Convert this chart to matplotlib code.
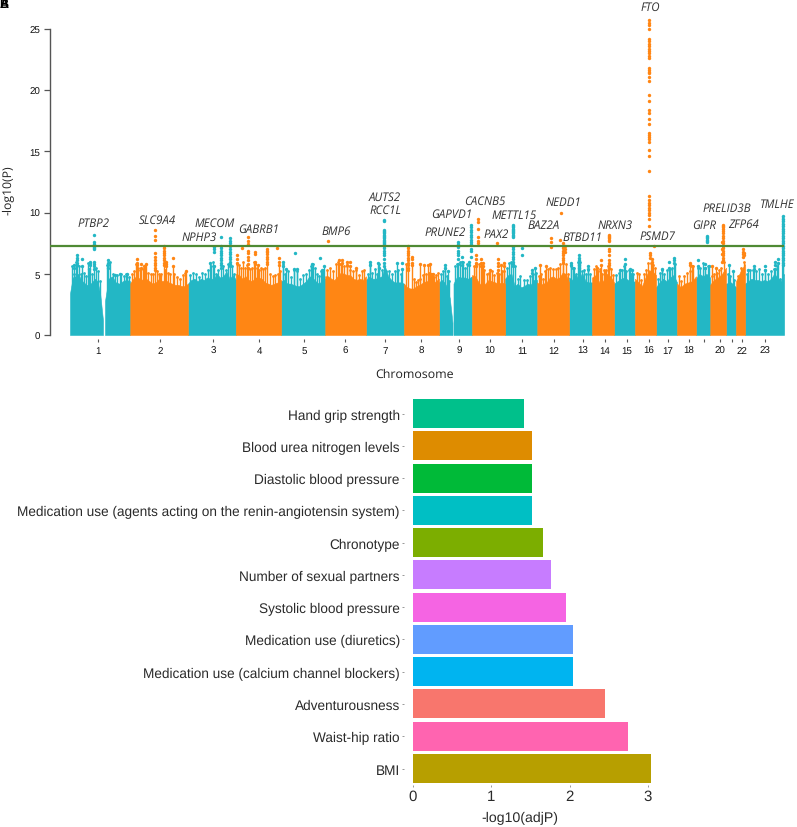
import matplotlib
matplotlib.use("Agg")
import matplotlib.pyplot as plt

plt.rcParams["text.hinting"] = "none"
plt.rcParams["text.hinting_factor"] = 8

W, H = 797, 828
TEAL = "#23B7C5"
ORANGE = "#FF8614"
GREEN = "#4F8A34"

# ---- Manhattan: chromosome segments (start, end on the genome axis) and top of the solid mass
seg_1a = (70, 103); top_1a = [3.4, 4.7, 4.8, 5.0, 4.5, 4.3, 4.1, 4.1, 4.3, 4.6, 4.4, 3.3, 1.2]
seg_1b = (105, 130); top_1b = [2.8, 4.6, 4.8, 4.3, 4.2, 4.4, 4.5, 4.4]
seg_2 = (130, 188); top_2 = [4.2, 4.6, 4.8, 4.6, 4.5, 4.6, 4.4, 4.2, 4.3, 4.6, 4.4, 4.5, 4.3, 4.2, 4.1, 4.1, 4.0, 4.0, 4.2]
seg_3 = (188, 236); top_3 = [4.2, 4.5, 4.6, 4.4, 4.6, 4.5, 4.7, 4.6, 4.6, 5.0, 4.7, 4.8, 5.2, 4.6, 4.9, 4.5]
seg_4 = (236, 281); top_4 = [5.0, 4.9, 4.6, 4.8, 4.5, 4.4, 4.7, 4.7, 4.6, 4.3, 4.2, 4.1, 4.2, 4.3, 4.5]
seg_5 = (281, 325); top_5 = [4.4, 4.5, 4.2, 4.2, 4.1, 4.0, 4.0, 4.2, 4.4, 4.8, 4.7, 4.4, 4.2, 4.4, 4.6]
seg_6 = (325, 366); top_6 = [4.8, 4.8, 4.6, 4.5, 4.8, 5.1, 5.0, 4.9, 4.9, 4.6, 4.5, 4.6, 4.5, 4.8]
seg_7 = (366, 404); top_7 = [4.5, 4.8, 4.6, 4.6, 4.7, 4.8, 5.6, 4.8, 4.5, 4.3, 4.3, 4.3, 4.2]
seg_8 = (404, 439); top_8 = [4.2, 3.9, 3.8, 3.8, 4.0, 4.1, 4.3, 4.4, 4.4, 4.2, 4.4, 4.6]
seg_9a = (439, 452.5); top_9a = [4.3, 4.5, 4.3, 3.9, 3.0, 1.0]
seg_9b = (453.5, 472); top_9b = [4.2, 4.8, 4.7, 4.7, 4.6, 4.8]
seg_10 = (472, 505); top_10 = [4.9, 4.8, 4.3, 4.0, 4.2, 4.5, 4.4, 4.3, 4.2, 4.3, 4.2]
seg_11 = (505, 537); top_11 = [4.6, 4.9, 5.0, 4.0, 4.2, 3.9, 4.0, 4.2, 4.1, 4.5, 4.5]
seg_12 = (537, 569); top_12 = [4.3, 4.1, 4.2, 4.3, 4.7, 4.8, 4.6, 4.7, 5.1, 5.0, 4.3]
seg_13 = (569, 592); top_13 = [4.7, 4.5, 5.0, 4.5, 5.1, 4.4, 4.3, 4.3]
seg_14 = (592, 614); top_14 = [4.7, 4.9, 4.3, 4.4, 5.0, 4.8, 4.3]
seg_15 = (614, 635); top_15 = [4.2, 4.4, 4.6, 4.7, 4.5, 4.3, 4.4]
seg_16 = (635, 656); top_16 = [4.6, 4.3, 4.0, 4.7, 5.3, 5.2, 4.9]
seg_17 = (656, 677); top_17 = [3.9, 4.3, 4.6, 4.4, 4.7, 4.9, 4.3]
seg_18 = (677, 696); top_18 = [4.2, 3.9, 4.2, 4.3, 4.4, 4.8]
seg_19 = (696, 710); top_19 = [4.6, 5.0, 4.8, 5.0, 4.7]
seg_20 = (710, 726); top_20 = [4.1, 4.5, 4.7, 5.0, 5.5]
seg_21 = (726, 736); top_21 = [4.2, 4.3, 3.9]
seg_22 = (736, 745); top_22 = [4.4, 5.2, 5.8]
seg_23 = (745, 784); top_23 = [4.2, 4.4, 4.6, 4.5, 4.5, 4.4, 4.5, 4.4, 4.6, 5.0, 4.7, 4.4, 5.0]

teal_segments = [(seg_1a, top_1a), (seg_1b, top_1b), (seg_3, top_3), (seg_5, top_5), (seg_7, top_7),
                 (seg_9a, top_9a), (seg_9b, top_9b), (seg_11, top_11), (seg_13, top_13), (seg_15, top_15),
                 (seg_17, top_17), (seg_19, top_19), (seg_21, top_21), (seg_23, top_23)]
orange_segments = [(seg_2, top_2), (seg_4, top_4), (seg_6, top_6), (seg_8, top_8), (seg_10, top_10),
                   (seg_12, top_12), (seg_14, top_14), (seg_16, top_16), (seg_18, top_18), (seg_20, top_20),
                   (seg_22, top_22)]

# ---- Manhattan: thin spikes rising out of the mass
teal_spike_x = [72, 73.5, 76, 79, 81, 84, 86, 88, 92, 96, 98, 100, 107, 110, 113, 117, 121, 124, 126, 129,
                190, 193, 196, 199, 202, 205, 208, 211, 213, 216, 218, 223, 226, 228, 232, 234,
                283, 285, 288, 291, 294, 297, 300, 303, 306, 309, 311, 313, 315, 317, 319, 321, 323,
                368, 370, 372, 375, 377, 379, 382, 386, 389, 392, 395, 398, 401,
                441, 443, 445, 447, 449, 455, 457, 460, 463, 465, 467,
                507, 509, 511, 515, 518, 520, 524, 527, 530, 533, 536,
                571, 574, 576, 578, 580, 582, 584, 586, 588, 590,
                616, 619, 622, 624, 626, 629, 631, 633,
                658, 660, 662, 664, 667, 670, 672, 675,
                698, 700, 703, 705, 708, 728, 730, 734,
                747, 750, 753, 756, 759, 762, 765, 768, 771, 774, 777, 780]
teal_spike_y = [5.6, 5.0, 6.0, 5.6, 5.0, 5.1, 4.8, 5.9, 5.0, 5.5, 5.2, 4.4, 5.7, 6.0, 5.0, 4.9, 5.0, 4.8, 5.0, 4.7,
                4.9, 5.1, 5.0, 4.7, 5.1, 5.0, 5.3, 5.6, 6.0, 5.0, 5.3, 5.6, 5.3, 5.8, 5.6, 5.0,
                5.8, 5.0, 5.2, 4.7, 5.3, 5.2, 4.6, 4.9, 5.0, 5.3, 5.6, 5.8, 5.5, 5.0, 4.8, 5.2, 5.3,
                5.0, 5.8, 5.1, 5.4, 5.0, 5.8, 5.3, 5.2, 5.2, 5.0, 5.2, 5.3, 5.0,
                5.0, 5.2, 5.5, 4.8, 4.4, 5.6, 5.8, 6.0, 6.0, 5.5, 5.8,
                5.5, 5.9, 6.0, 5.6, 4.6, 4.8, 4.5, 4.5, 4.8, 5.0, 5.1,
                5.6, 5.5, 5.0, 6.0, 6.0, 5.2, 5.3, 5.0, 5.3, 5.0,
                4.9, 5.1, 5.3, 5.6, 5.2, 5.3, 5.0, 5.0,
                4.6, 5.1, 5.3, 5.0, 5.3, 5.4, 5.5, 5.8,
                5.5, 5.5, 5.9, 5.5, 5.6, 5.0, 4.8, 4.5,
                5.0, 5.3, 5.3, 5.2, 5.4, 5.0, 5.3, 5.0, 5.2, 5.4, 5.6, 4.6]
orange_spike_x = [132, 134, 136, 138, 140, 143, 145, 148, 151, 153, 157, 159, 161, 165, 168, 170, 174, 177, 180, 183, 185,
                  237, 239, 241, 243, 245, 247, 250, 252, 254, 257, 259, 261, 263, 265, 270, 273, 275, 278, 280,
                  327, 330, 333, 336, 338, 341, 344, 347, 350, 353, 356, 359, 362, 364,
                  406, 414, 416, 418, 420, 423, 426, 429, 432, 434, 436, 438,
                  474, 476, 479, 482, 484, 487, 489, 492, 494, 497, 499, 502, 504,
                  539, 541, 543, 545, 548, 550, 553, 556, 558, 560, 563, 566, 568,
                  594, 596, 598, 600, 602, 604, 606, 608, 611, 613,
                  637, 639, 641, 644, 646, 648, 651, 653, 655,
                  679, 681, 684, 687, 690, 693, 712, 714, 717, 719, 721, 724, 738, 741, 744]
orange_spike_y = [5.0, 5.2, 5.8, 5.5, 5.3, 5.4, 5.6, 5.1, 5.0, 5.0, 5.2, 5.0, 5.0, 5.3, 5.1, 5.0, 5.0, 4.7, 4.6, 4.9, 5.1,
                  5.8, 5.7, 5.5, 6.0, 5.5, 5.7, 5.4, 5.5, 6.0, 5.5, 5.3, 5.5, 5.4, 5.5, 5.0, 4.8, 4.9, 5.0, 5.2,
                  5.3, 5.5, 5.2, 5.8, 6.0, 5.8, 5.6, 5.6, 5.3, 5.2, 5.3, 4.9, 5.2, 5.3,
                  5.8, 4.6, 4.3, 4.5, 4.6, 4.9, 5.0, 5.1, 5.0, 4.7, 4.9, 5.1,
                  5.6, 5.8, 5.8, 5.6, 5.3, 5.0, 5.1, 5.2, 4.9, 5.1, 5.0, 5.2, 5.2,
                  4.8, 5.0, 4.6, 5.2, 5.4, 5.5, 5.4, 5.4, 5.5, 5.8, 6.0, 5.8, 5.0,
                  5.4, 5.6, 5.2, 5.4, 5.0, 5.3, 5.3, 5.6, 5.4, 4.9,
                  5.1, 5.0, 4.5, 5.0, 5.3, 5.9, 5.9, 5.7, 5.5,
                  4.8, 4.4, 4.8, 5.1, 5.2, 5.6, 4.8, 5.0, 5.1, 5.3, 5.5, 6.0, 4.8, 5.5, 6.0]

# ---- Manhattan: individual points above the mass, as (position, -log10 P values)
teal_hits = [
    (94, [8.2, 7.6, 7.4, 7.2, 7.1, 7.0, 6.0, 5.8, 5.6, 5.4]),
    (77, [6.5, 6.3, 6.1, 5.9, 5.7]), (74, [5.7, 5.5]), (82, [6.2, 5.6]), (90, [6.0, 5.9, 5.7]), (89, [5.4]),
    (108, [6.1, 5.9, 5.7, 5.5]), (120, [5.0]), (127, [5.0]), (115, [4.9]),
    (210, [5.9]), (214, [7.2, 7.0, 6.8, 5.6]), (221, [8.0]), (220.5, [7.3, 7.1, 6.9, 6.7, 6.5, 6.3, 6.1, 5.9, 5.7, 5.5]),
    (230, [7.9, 7.7, 7.5, 7.3, 7.0, 6.8, 6.6, 6.4, 6.2, 6.0, 5.8, 5.6]),
    (283, [6.0, 5.6]), (286, [5.4]), (295, [6.7]), (294, [5.4]), (297, [5.4]), (312, [5.8, 5.5]), (320, [6.3]), (324, [5.6]), (322, [5.3]),
    (370, [6.0, 5.7]), (378, [5.9]), (379, [5.5]),
    (384, [9.4, 9.3, 8.6, 8.5, 8.4, 8.3, 8.2, 8.1, 8.0, 7.9, 7.8, 7.7, 7.6, 7.5, 7.4, 7.3, 7.1, 6.9, 6.7, 6.5, 6.2, 5.9, 5.6]),
    (397, [5.9]), (402, [5.9, 5.4]),
    (445, [5.7, 5.5]), (448, [5.2]),
    (458, [7.6, 7.4, 7.2, 6.9, 6.7, 6.5, 6.2, 5.8]), (462, [6.4, 6.0, 5.7]), (469, [6.0, 5.7]),
    (470.5, [9.0, 8.8, 8.6, 8.4, 8.2, 8.0, 7.8, 7.6, 7.4, 7.0, 6.9, 6.4]),
    (512.5, [9.0, 8.9, 8.8, 8.7, 8.6, 8.5, 8.4, 8.3, 8.2, 8.1, 8.0, 7.2, 7.0, 6.8, 6.6, 6.4, 6.2, 6.0, 5.8, 5.6]),
    (522, [7.1, 6.5]), (532, [5.3, 5.1]), (535, [5.5]),
    (571, [5.9, 5.7]), (573, [5.5]), (579, [6.5, 6.3, 6.1, 5.9, 5.7, 5.5]), (588, [5.6, 5.4]),
    (625, [6.2, 5.8]), (630, [5.4]), (620, [5.3]), (632, [5.3]),
    (669, [6.0, 5.5]), (674, [6.3, 6.1, 5.9]), (662, [5.4]),
    (698, [6.1, 5.6]), (705, [5.8, 5.5]), (707, [8.1, 8.0, 7.9, 7.8, 7.7, 7.6]), (709, [5.6]),
    (729, [5.7]), (733, [5.2]),
    (748, [5.3]), (754, [5.6, 5.4]), (765, [5.6, 5.3]), (775, [6.0, 5.7, 5.4]), (778, [6.2, 5.9]),
    (783, [9.7, 9.5, 9.3, 9.1, 8.9, 8.7, 8.5, 8.3, 8.1, 7.9, 7.7, 7.5, 7.3, 7.1, 6.9, 6.7, 6.5, 6.3, 6.1, 5.9, 5.7]),
]
orange_hits = [
    (155, [8.6, 8.1, 7.8, 6.7, 6.4, 6.1, 5.9, 5.7, 5.5, 5.3]),
    (137, [6.2, 5.9, 5.7]), (141, [5.8, 5.5]), (146, [5.8]), (144, [5.6]), (160, [4.8]),
    (163.5, [7.3, 7.1, 6.9, 6.7, 6.5, 6.3, 6.1, 5.9, 5.7]), (166, [6.0, 5.8, 5.6]), (172.5, [6.3, 5.6]), (186, [5.2]),
    (242, [7.1]), (237, [6.5, 6.2, 5.9]),
    (248, [8.0, 7.7, 7.4, 6.9, 6.7, 6.4, 6.1, 5.8, 5.5]), (255, [6.8, 6.6, 6.0, 5.8]), (258, [5.7]),
    (267, [7.0, 6.9, 6.8, 6.6, 6.4, 6.2, 6.0, 5.8]), (277, [7.1]), (279, [6.3, 6.0, 5.7]),
    (328, [7.7]), (339, [6.1, 5.8]), (342, [6.1, 5.9]), (347, [6.0, 5.7]), (350, [6.0, 5.6]), (356, [5.5]),
    (408, [7.3, 7.1, 6.9, 6.7, 6.5, 6.3, 6.1, 5.9, 5.7, 5.5, 5.3]), (412, [6.4, 6.2, 5.9, 5.7]),
    (420, [5.8]), (424, [5.7]), (428, [5.7]), (430, [5.8]), (431, [5.0]), (433, [5.0]),
    (476, [6.5, 6.2, 5.9, 5.6]),
    (478, [9.5, 9.2, 8.7, 8.0, 7.7, 7.5]), (481, [6.2, 5.9, 5.6]), (483, [5.9, 5.6]),
    (490, [5.3]), (497, [7.5]), (498, [6.2, 5.9, 5.6, 5.3]), (501, [5.7]), (504, [5.9, 5.6]),
    (540, [5.7]), (546, [5.6]),
    (551, [7.9, 7.6, 7.2]), (561, [10.0]), (560, [7.8]),
    (562.5, [7.5, 7.3, 7.1, 6.9, 6.7, 6.5, 6.3, 6.1, 5.9]), (565, [7.3, 7.0, 6.8]),
    (601, [6.1, 5.7]), (597, [5.5]), (605, [5.2]),
    (609, [8.2, 8.1, 8.0, 7.9, 7.8, 7.7, 7.0, 6.9, 6.5, 6.1, 5.9, 5.7, 5.5]),
    (649, [25.7, 25.5, 25.3, 25.0, 24.2, 24.0, 23.8, 23.6, 23.4, 23.2, 23.0, 22.8, 22.6,
           21.8, 21.65, 21.5, 21.4, 21.1, 20.75, 19.6, 19.1, 18.4, 18.1, 17.65, 17.2,
           16.5, 16.3, 16.2, 16.0, 15.8, 15.1, 14.65, 13.4, 11.35, 11.0, 10.8, 10.6, 10.4,
           10.2, 10.0, 9.8, 9.5, 8.9]),
    (654, [7.3]), (649.5, [6.7, 6.5, 6.3]), (652, [6.2, 6.0, 5.8]),
    (690, [5.9, 5.7]), (692, [5.6]),
    (712, [5.6]), (716, [5.5]),
    (723, [9.0, 8.9, 8.8, 8.7, 8.5, 8.3, 8.1, 7.9, 7.7, 7.5, 7.3, 7.1, 6.9, 6.7, 6.5, 6.3, 6.1]),
    (721.5, [7.6, 7.0, 6.6, 6.0]),
    (743, [7.0, 6.8, 6.6, 6.4]), (744, [6.7, 6.5]),
]

threshold = 7.3
chrom_ticks = [98, 160, 213, 259, 304, 345, 385, 421, 459, 490, 522, 554, 583, 605, 627, 649, 668, 689, 704, 720, 732, 742, 765]
chrom_labels = ["1", "2", "3", "4", "5", "6", "7", "8", "9", "10", "11", "12", "13", "14", "15", "16", "17", "18", "", "20", "", "22", "23"]
y_ticks = [0, 5, 10, 15, 20, 25]

gene_names = ["PTBP2", "SLC9A4", "MECOM", "NPHP3", "GABRB1", "BMP6", "AUTS2", "RCC1L", "GAPVD1", "PRUNE2",
              "CACNB5", "PAX2", "METTL15", "NEDD1", "BAZ2A", "BTBD11", "NRXN3", "PSMD7", "FTO", "GIPR",
              "PRELID3B", "ZFP64", "TMLHE"]
gene_x = [94, 157, 215, 199, 259, 336, 385, 385, 452, 445, 485, 496, 514, 563, 544, 582, 615, 657, 650, 704, 727, 744, 777]
gene_y = [9.2, 9.4, 9.2, 8.0, 8.7, 8.5, 11.3, 10.2, 9.9, 8.4, 11.0, 8.25, 9.8, 10.9, 9.0, 8.0, 9.0, 8.1, 26.8, 9.0, 10.4, 9.1, 10.7]

# ---- Enrichment bars, bottom to top
traits = ["BMI", "Waist-hip ratio", "Adventurousness", "Medication use (calcium channel blockers)",
          "Medication use (diuretics)", "Systolic blood pressure", "Number of sexual partners", "Chronotype",
          "Medication use (agents acting on the renin-angiotensin system)", "Diastolic blood pressure",
          "Blood urea nitrogen levels", "Hand grip strength"]
adj_p = [3.04, 2.74, 2.45, 2.04, 2.04, 1.95, 1.76, 1.66, 1.52, 1.52, 1.52, 1.42]
bar_colors = ["#B79F00", "#FF64B0", "#F8766D", "#00B4F0", "#619CFF", "#F564E3", "#C77CFF", "#7CAE00",
              "#00BFC4", "#00BA38", "#DE8C00", "#00C08B"]


def px_axes(fig, left, top, right, bottom):
    return fig.add_axes([left / W, 1 - bottom / H, (right - left) / W, (bottom - top) / H])


fig = plt.figure(figsize=(W / 100, H / 100), dpi=100, facecolor="white")

# Manhattan panel: x axis is in genome-plot units
ax = px_axes(fig, 50, 0, 797, 336)
ax.set_xlim(50, 797)
ax.set_ylim(0, 336 / 12.24)
ax.patch.set_alpha(0)


def draw_mass(segments, colour):
    for (start, end), tops in segments:
        step = (end - start) / (len(tops) - 1)
        xs = [start + step * i for i in range(len(tops))]
        ax.fill_between(xs, 0, tops, color=colour, linewidth=0.4, zorder=2)


def draw_spikes(xs, ys, colour):
    ax.vlines(xs, 0, ys, color=colour, lw=1.0, zorder=2)
    ax.scatter(xs, ys, s=4, color=colour, linewidths=0, zorder=2)


def draw_hits(hits, colour):
    for x, values in hits:
        if min(values) < 6:
            ax.vlines(x, 0, min(values), color=colour, lw=1.0, zorder=2)
        ax.scatter([x] * len(values), values, s=6, color=colour, linewidths=0, zorder=3, clip_on=False)


draw_mass(teal_segments, TEAL)
draw_mass(orange_segments, ORANGE)
draw_spikes(teal_spike_x, teal_spike_y, TEAL)
draw_spikes(orange_spike_x, orange_spike_y, ORANGE)
draw_hits(teal_hits, TEAL)
draw_hits(orange_hits, ORANGE)
ax.vlines(783, 0, 9.7, color=TEAL, lw=1.6, zorder=2)

ax.plot([50, 784], [threshold, threshold], color=GREEN, lw=1.6, zorder=4, solid_capstyle="butt")

for s in ("top", "right"):
    ax.spines[s].set_visible(False)
ax.spines["left"].set_bounds(0, 25)
ax.spines["left"].set_color("#555555")
ax.spines["left"].set_linewidth(1.0)
ax.spines["bottom"].set_position(("outward", 3))
ax.spines["bottom"].set_visible(False)
ax.set_yticks(y_ticks)
ax.set_yticklabels([str(v) for v in y_ticks], fontname="Liberation Sans", fontsize=7, color="#111111")
ax.tick_params(axis="y", length=4, width=0.9, color="#555555", pad=3)
ax.set_xticks(chrom_ticks)
ax.set_xticklabels(chrom_labels, fontname="Liberation Sans", fontsize=7, color="#111111")
ax.tick_params(axis="x", length=2.5, width=0.8, color="#555555", pad=2)

for name, x, y in zip(gene_names, gene_x, gene_y):
    ax.text(x, y, name, style="italic", fontname="Open Sans", fontsize=8.3, color="#333333",
            ha="center", va="center", zorder=5, clip_on=False)

fig.text(9 / W, 1 - 190 / H, "-log10(P)", rotation=90, ha="center", va="center", fontname="Open Sans", fontsize=8.8, color="#222222")
fig.text(415 / W, 1 - 375 / H, "Chromosome", ha="center", va="center", fontname="Open Sans", fontsize=8.9, color="#222222")
for letter in ("A", "B"):
    fig.text(4 / W, 1 - 5 / H, letter, ha="center", va="center", fontname="Liberation Sans", fontsize=9, fontweight="bold", color="black")

# Enrichment panel
bx = px_axes(fig, 404, 398, 660, 786)
px_per_unit = 78.3
bx.set_xlim(-9 / px_per_unit, (660 - 413) / px_per_unit)
row = 32.27
bx.set_ylim(-(786 - 769.5) / row, (769.5 - 398) / row)
bx.barh(range(len(traits)), adj_p, height=0.9, color=bar_colors, linewidth=0)
for s in bx.spines.values():
    s.set_visible(False)
bx.set_yticks(range(len(traits)))
bx.set_yticklabels(traits, fontname="Liberation Sans", fontsize=9.8, color="#2a2a2a")
bx.tick_params(axis="y", length=1.5, width=0.6, color="#888888", pad=1.5)
bx.set_xticks([0, 1, 2, 3])
bx.set_xticklabels(["0", "1", "2", "3"], fontname="Liberation Sans", fontsize=10.8, color="#2a2a2a")
bx.tick_params(axis="x", length=1.5, width=0.6, color="#888888", pad=1.5)
bx.set_xlabel("-log10(adjP)", fontname="Liberation Sans", fontsize=10.2, color="#2a2a2a")
bx.xaxis.set_label_coords((520 - 404) / (660 - 404), -(818 - 786) / (786 - 398), transform=bx.transAxes)
bx.xaxis.label.set_va("center")

fig.savefig("out.png", dpi=100)
